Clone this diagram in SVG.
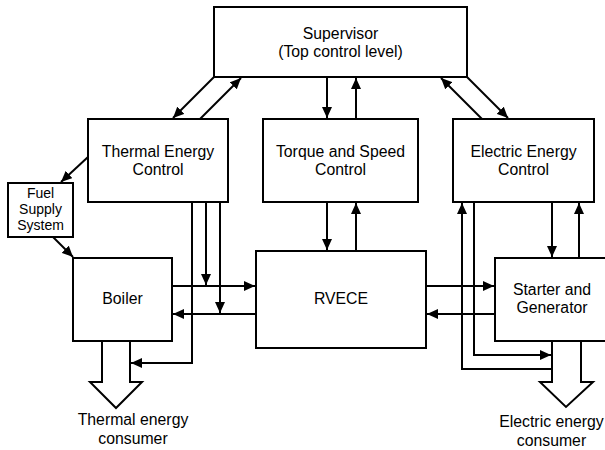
<svg xmlns="http://www.w3.org/2000/svg" width="605" height="450" viewBox="0 0 605 450">
<defs>
<marker id="ah" markerUnits="userSpaceOnUse" markerWidth="12" markerHeight="10" refX="11" refY="5" orient="auto">
<path d="M0,0 L11,5 L0,10 Z" fill="#000"/>
</marker>
<style>
.box{fill:#fff;stroke:#000;stroke-width:2}
.ln{fill:none;stroke:#000;stroke-width:2}
.ar{fill:none;stroke:#000;stroke-width:2;marker-end:url(#ah)}
.big{fill:#fff;stroke:#000;stroke-width:2;stroke-linejoin:miter}
text{font-family:"Liberation Sans",Arial,sans-serif;font-size:15.8px;fill:#000;text-anchor:middle}
.sm{font-size:14px}
</style>
</defs>
<rect width="605" height="450" fill="#fff"/>
<g id="connectors">
<line class="ar" x1="214" y1="77" x2="173" y2="118"/>
<line class="ar" x1="200" y1="119" x2="241" y2="78"/>
<line class="ar" x1="327" y1="77" x2="327" y2="118"/>
<line class="ar" x1="356" y1="119" x2="356" y2="78"/>
<line class="ar" x1="482" y1="119" x2="441" y2="78"/>
<line class="ar" x1="467" y1="77" x2="508" y2="118"/>
<line class="ar" x1="88" y1="157" x2="61" y2="182"/>
<line class="ar" x1="53" y1="237" x2="73" y2="257"/>
<line class="ar" x1="327" y1="202" x2="327" y2="250"/>
<line class="ar" x1="356" y1="251" x2="356" y2="203"/>
<line class="ar" x1="172" y1="286" x2="255" y2="286"/>
<line class="ar" x1="256" y1="314" x2="173" y2="314"/>
<line class="ar" x1="426" y1="286" x2="494" y2="286"/>
<line class="ar" x1="495" y1="314" x2="427" y2="314"/>
<path class="ar" d="M192,202 V363 H131"/>
<line class="ar" x1="206" y1="202" x2="206" y2="285"/>
<line class="ar" x1="220" y1="202" x2="220" y2="313"/>
<path class="ar" d="M552,369 H462 V203"/>
<path class="ar" d="M474,202 V355 H551"/>
<line class="ar" x1="552" y1="202" x2="552" y2="257"/>
<line class="ar" x1="579" y1="258" x2="579" y2="203"/>
</g>
<g id="supervisor">
<rect class="box" x="214" y="7" width="253" height="70"/>
<text x="340.5" y="39">Supervisor</text>
<text x="340.5" y="57">(Top control level)</text>
</g>
<g id="thermal-energy-control">
<rect class="box" x="88" y="119" width="140" height="83"/>
<text x="158" y="157">Thermal Energy</text>
<text x="158" y="175">Control</text>
</g>
<g id="torque-speed-control">
<rect class="box" x="263" y="119" width="155" height="83"/>
<text x="340.5" y="157">Torque and Speed</text>
<text x="340.5" y="175">Control</text>
</g>
<g id="electric-energy-control">
<rect class="box" x="453" y="119" width="141" height="83"/>
<text x="523.5" y="157">Electric Energy</text>
<text x="523.5" y="175">Control</text>
</g>
<g id="fuel-supply">
<rect class="box" x="8" y="183" width="65" height="54"/>
<text class="sm" x="40.5" y="198">Fuel</text>
<text class="sm" x="40.5" y="214">Supply</text>
<text class="sm" x="40.5" y="230">System</text>
</g>
<g id="boiler">
<rect class="box" x="73" y="258" width="99" height="83"/>
<text x="122.5" y="304">Boiler</text>
</g>
<g id="rvece">
<rect class="box" x="256" y="251" width="170" height="97"/>
<text x="341" y="304">RVECE</text>
</g>
<g id="starter-generator">
<rect class="box" x="495" y="258" width="115" height="83"/>
<text x="552" y="295">Starter and</text>
<text x="552" y="313">Generator</text>
</g>
<g id="thermal-consumer">
<polygon class="big" points="102,341 102,382 90,382 116,408 142,382 130,382 130,341"/>
<text x="133" y="425">Thermal energy</text>
<text x="133" y="444">consumer</text>
</g>
<g id="electric-consumer">
<polygon class="big" points="552,341 552,382 540,382 566,407 593,382 581,382 581,341"/>
<text x="551.5" y="427">Electric energy</text>
<text x="551.5" y="446">consumer</text>
</g>
</svg>
